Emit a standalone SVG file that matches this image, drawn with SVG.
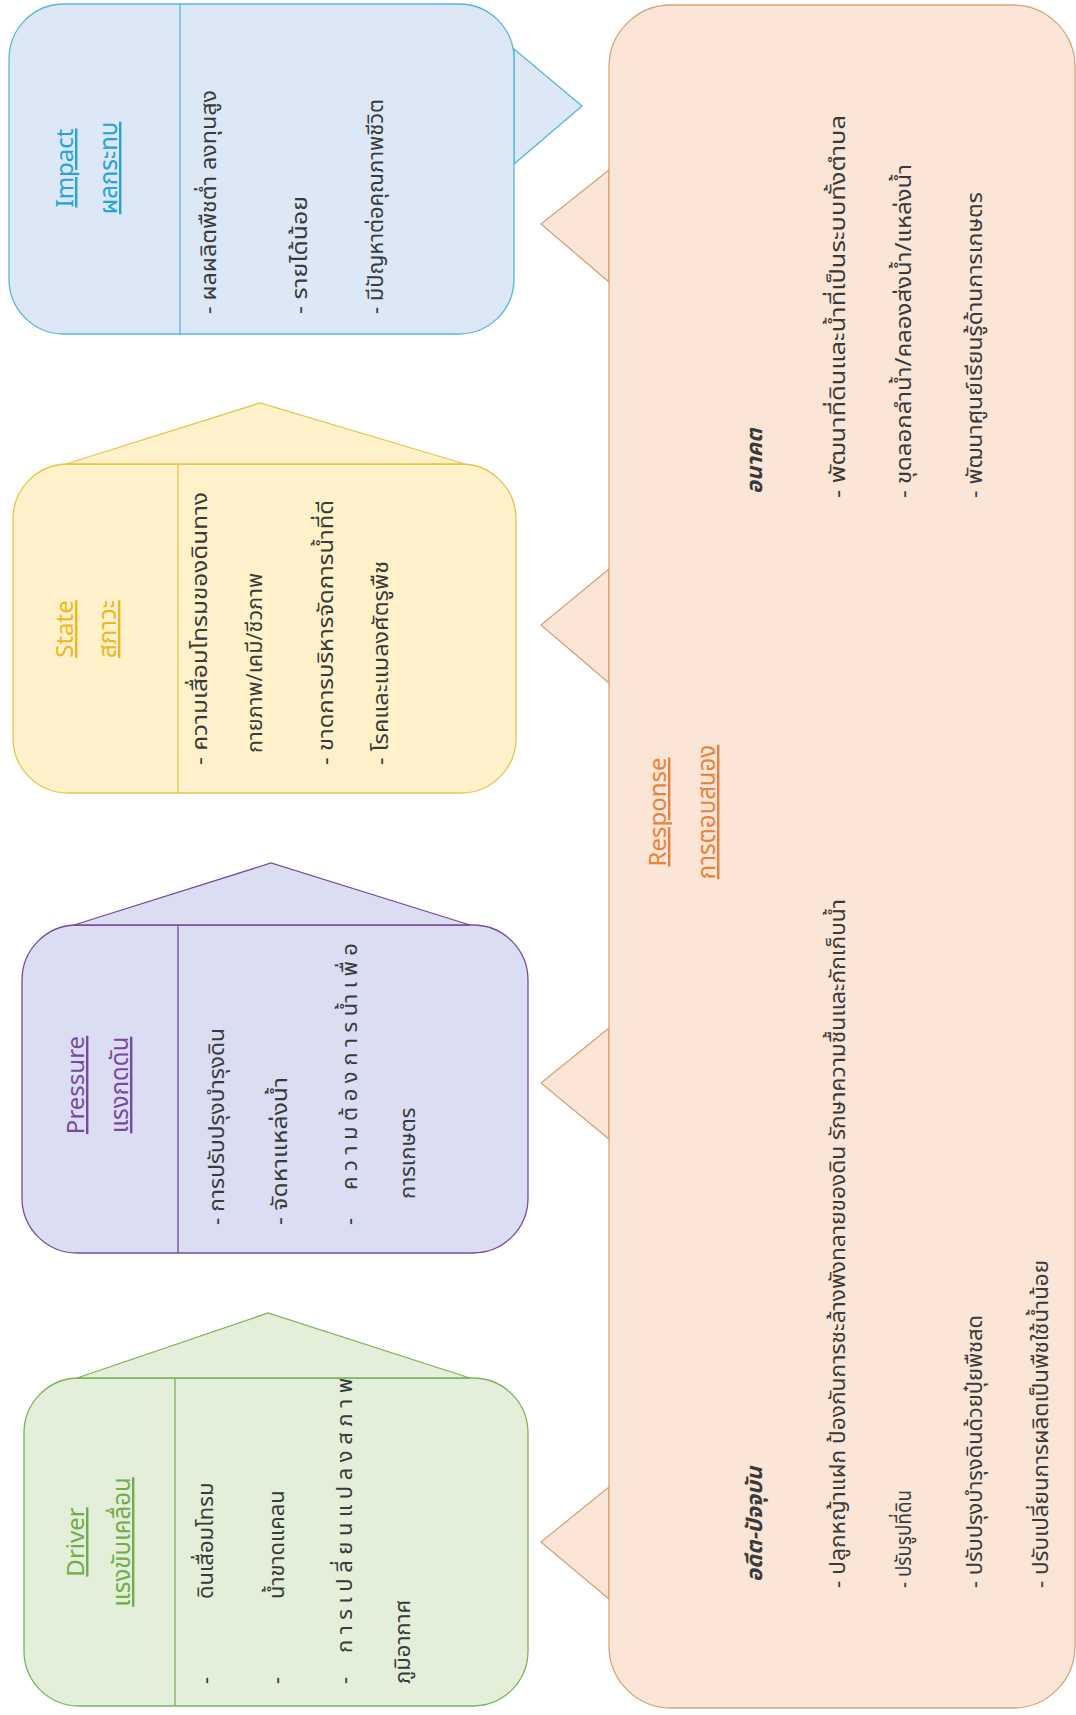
<svg xmlns="http://www.w3.org/2000/svg" width="1076" height="1715" viewBox="0 0 1076 1715">
<style>
.t{font-family:"Noto Sans Thai","Leelawadee UI",Tahoma,"Noto Sans","DejaVu Sans",sans-serif;font-size:22px;fill:#3a3a3a}
.h{font-family:"Noto Sans Thai","Open Sans","Noto Sans","DejaVu Sans",sans-serif;font-size:24px;text-anchor:middle;text-decoration:underline}
.b{font-weight:bold;font-style:italic}
.imp{fill:#dce8f5;stroke:#5ab4dc;stroke-width:1.3}
.sta{fill:#fff2cb;stroke:#e6c44c;stroke-width:1.3}
.pre{fill:#dbdef3;stroke:#7a4a9c;stroke-width:1.3}
.dri{fill:#e3efd9;stroke:#7fb05c;stroke-width:1.3}
.res{fill:#fbe5d6;stroke:#d4a57a;stroke-width:1.3}
</style>
<rect width="1076" height="1715" fill="#ffffff"/>
<g id="connectors">
<polygon class="imp" points="514,49 582,106 514,164"/>
<polygon class="res" points="609,170 541,224 609,282"/>
<polygon class="res" points="609,569 541,625 609,683"/>
<polygon class="res" points="609,1028 541,1083 609,1139"/>
<polygon class="res" points="609,1487 541,1542 609,1599"/>
</g>
<g id="impact">
<rect class="imp" x="9" y="4" width="505" height="330" rx="55"/>
<line x1="180" y1="4" x2="180" y2="334" stroke="#5ab4dc" stroke-width="1.3"/>
<text class="h" fill="#27a2da" transform="translate(73 168) rotate(-90)">Impact</text>
<text class="h" fill="#27a2da" transform="translate(117 168) rotate(-90)">ผลกระทบ</text>
<text class="t" transform="translate(216 314) rotate(-90)" textLength="224" lengthAdjust="spacingAndGlyphs">- ผลผลิตพืชต่ำ ลงทุนสูง</text>
<text class="t" transform="translate(307 314) rotate(-90)" textLength="118" lengthAdjust="spacingAndGlyphs">- รายได้น้อย</text>
<text class="t" transform="translate(383 314) rotate(-90)" textLength="215" lengthAdjust="spacingAndGlyphs">- มีปัญหาต่อคุณภาพชีวิต</text>
</g>
<g id="state">
<rect class="sta" x="13" y="464" width="503" height="329" rx="55"/>
<polygon class="sta" points="66,464 260,403 465,464"/>
<line x1="178" y1="464" x2="178" y2="793" stroke="#e6c44c" stroke-width="1.3"/>
<text class="h" fill="#f0b521" transform="translate(73 629) rotate(-90)">State</text>
<text class="h" fill="#f0b521" transform="translate(116 629) rotate(-90)">สภาวะ</text>
<text class="t" transform="translate(207 765) rotate(-90)" textLength="273" lengthAdjust="spacingAndGlyphs">- ความเสื่อมโทรมของดินทาง</text>
<text class="t" transform="translate(262 753) rotate(-90)" textLength="180" lengthAdjust="spacingAndGlyphs">กายภาพ/เคมี/ชีวภาพ</text>
<text class="t" transform="translate(333 765) rotate(-90)" textLength="265" lengthAdjust="spacingAndGlyphs">- ขาดการบริหารจัดการน้ำที่ดี</text>
<text class="t" transform="translate(388 765) rotate(-90)" textLength="204" lengthAdjust="spacingAndGlyphs">- โรคและแมลงศัตรูพืช</text>
</g>
<g id="pressure">
<rect class="pre" x="22" y="925" width="506" height="328" rx="55"/>
<polygon class="pre" points="74,925 271,863 470,925"/>
<line x1="178" y1="925" x2="178" y2="1253" stroke="#7a4a9c" stroke-width="1.3"/>
<text class="h" fill="#7a48a2" transform="translate(84 1085) rotate(-90)">Pressure</text>
<text class="h" fill="#7a48a2" transform="translate(128 1085) rotate(-90)">แรงกดดัน</text>
<text class="t" transform="translate(224 1225) rotate(-90)" textLength="197" lengthAdjust="spacingAndGlyphs">- การปรับปรุงบำรุงดิน</text>
<text class="t" transform="translate(287 1225) rotate(-90)" textLength="148" lengthAdjust="spacingAndGlyphs">- จัดหาแหล่งน้ำ</text>
<text class="t" transform="translate(357 1225) rotate(-90)">-</text>
<text class="t" transform="translate(357 1190) rotate(-90)" textLength="247" lengthAdjust="spacing">ความต้องการน้ำเพื่อ</text>
<text class="t" transform="translate(415 1199) rotate(-90)">การเกษตร</text>
</g>
<g id="driver">
<rect class="dri" x="24" y="1378" width="504" height="328" rx="55"/>
<polygon class="dri" points="77,1378 268,1313 470,1378"/>
<line x1="175" y1="1378" x2="175" y2="1706" stroke="#7fb05c" stroke-width="1.3"/>
<text class="h" fill="#72ad4a" transform="translate(84 1542) rotate(-90)">Driver</text>
<text class="h" fill="#72ad4a" transform="translate(130 1542) rotate(-90)">แรงขับเคลื่อน</text>
<text class="t" transform="translate(213 1684) rotate(-90)">-</text>
<text class="t" transform="translate(213 1599) rotate(-90)">ดินเสื่อมโทรม</text>
<text class="t" transform="translate(284 1684) rotate(-90)">-</text>
<text class="t" transform="translate(284 1599) rotate(-90)">น้ำขาดแคลน</text>
<text class="t" transform="translate(352 1684) rotate(-90)">-</text>
<text class="t" transform="translate(352 1653) rotate(-90)" textLength="275" lengthAdjust="spacing">การเปลี่ยนแปลงสภาพ</text>
<text class="t" transform="translate(410 1684) rotate(-90)">ภูมิอากาศ</text>
</g>
<g id="response">
<rect class="res" x="609" y="5" width="466" height="1703" rx="62"/>
<text class="h" fill="#e8823c" transform="translate(666 812) rotate(-90)">Response</text>
<text class="h" fill="#e8823c" transform="translate(715 812) rotate(-90)">การตอบสนอง</text>
<text class="t b" transform="translate(762 1582) rotate(-90)">อดีต-ปัจจุบัน</text>
<text class="t" transform="translate(845 1588) rotate(-90)" textLength="689" lengthAdjust="spacingAndGlyphs">- ปลูกหญ้าแฝก ป้องกันการชะล้างพังทลายของดิน รักษาความชื้นและกักเก็บน้ำ</text>
<text class="t" transform="translate(911 1588) rotate(-90)" textLength="98" lengthAdjust="spacingAndGlyphs">- ปรับรูปที่ดิน</text>
<text class="t" transform="translate(982 1588) rotate(-90)" textLength="273" lengthAdjust="spacingAndGlyphs">- ปรับปรุงบำรุงดินด้วยปุ๋ยพืชสด</text>
<text class="t" transform="translate(1048 1588) rotate(-90)" textLength="328" lengthAdjust="spacingAndGlyphs">- ปรับเปลี่ยนการผลิตเป็นพืชใช้น้ำน้อย</text>
<text class="t b" transform="translate(762 494) rotate(-90)">อนาคต</text>
<text class="t" transform="translate(845 498) rotate(-90)" textLength="383" lengthAdjust="spacingAndGlyphs">- พัฒนาที่ดินและน้ำที่เป็นระบบทั้งตำบล</text>
<text class="t" transform="translate(911 498) rotate(-90)" textLength="334" lengthAdjust="spacingAndGlyphs">- ขุดลอกลำน้ำ/คลองส่งน้ำ/แหล่งน้ำ</text>
<text class="t" transform="translate(982 498) rotate(-90)" textLength="306" lengthAdjust="spacingAndGlyphs">- พัฒนาศูนย์เรียนรู้ด้านการเกษตร</text>
</g>
</svg>
